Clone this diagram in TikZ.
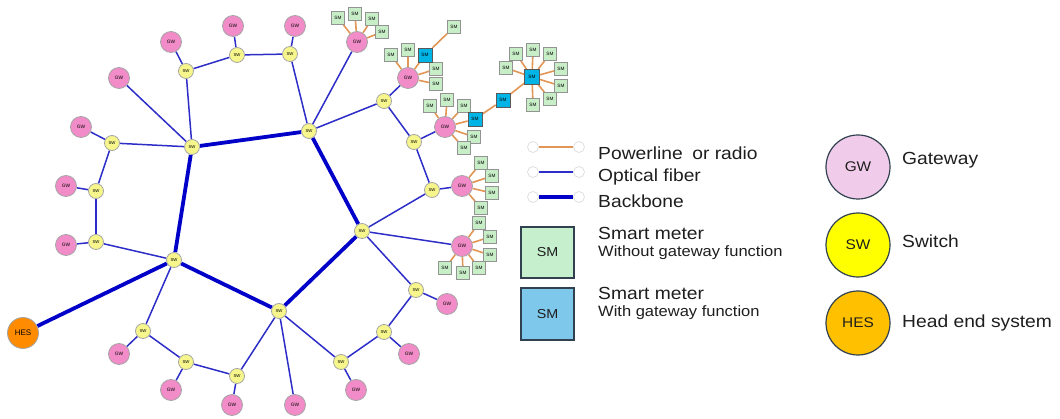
\documentclass[tikz,border=0pt]{standalone}
\usepackage{fontspec}
\setmainfont{Liberation Sans}
\newfontfamily\legfont[FakeStretch=1.1]{Liberation Sans}
\usetikzlibrary{backgrounds}
\definecolor{optc}{RGB}{45,45,200}
\definecolor{bbc}{RGB}{0,0,200}
\definecolor{plc}{RGB}{225,150,85}
\definecolor{swc}{RGB}{246,246,140}
\definecolor{gwc}{RGB}{242,140,200}
\definecolor{hesc}{RGB}{255,140,0}
\definecolor{smc}{RGB}{200,238,200}
\definecolor{smbc}{RGB}{0,180,230}
\definecolor{nbd}{RGB}{165,165,165}
\definecolor{lgsm}{RGB}{198,239,206}
\definecolor{lgsmb}{RGB}{126,200,235}
\definecolor{lggw}{RGB}{240,204,234}
\definecolor{lgsw}{RGB}{255,255,0}
\definecolor{lghes}{RGB}{255,192,0}
\definecolor{lgbd}{RGB}{50,65,80}
\definecolor{txt}{RGB}{30,30,30}
\tikzset{
 sw/.style={circle,draw=nbd,line width=0.8pt,fill=swc,minimum size=15pt,inner sep=0pt,font=\fontsize{4.3}{5}\selectfont},
 gw/.style={circle,draw=nbd,line width=0.8pt,fill=gwc,minimum size=21pt,inner sep=0pt,font=\fontsize{4.8}{5}\selectfont},
 hes/.style={circle,draw=nbd,line width=0.8pt,fill=hesc,minimum size=31pt,inner sep=0pt,font=\fontsize{8}{9}\selectfont},
 sm/.style={rectangle,draw=gray!85,line width=0.8pt,fill=smc,minimum size=13pt,inner sep=0pt,font=\fontsize{4.7}{5}\selectfont},
 smb/.style={sm,fill=smbc,draw=gray!70!black,minimum size=14pt},
 opt/.style={draw=optc,line width=1.5pt},
 bb/.style={draw=bbc,line width=3.8pt},
 pl/.style={draw=plc,line width=1.6pt},
 lc/.style={circle,draw=gray!25,line width=0.8pt,fill=white,minimum size=11pt,inner sep=0pt},
 lgbox/.style={rectangle,draw=lgbd,line width=1.2pt,minimum width=53pt,minimum height=51pt,inner sep=0pt,font=\legfont\fontsize{13}{15}\selectfont,text=txt},
 lgcirc/.style={circle,draw=lgbd,line width=1.2pt,minimum size=64pt,inner sep=0pt,font=\legfont\fontsize{14}{16}\selectfont,text=txt},
 bigtxt/.style={anchor=west,inner sep=0pt,font=\legfont\fontsize{17.5}{20}\selectfont,text=txt},
 smalltxt/.style={anchor=west,inner sep=0pt,font=\legfont\fontsize{15}{17}\selectfont,text=txt},
}
\begin{document}
\begin{tikzpicture}[x=1pt,y=-1pt]
\useasboundingbox (0,0) rectangle (1060,419);
% switches
\foreach \n/\x/\y in {s1/192/147,s2/309/131,s3/174/260,s4/279/311,s5/362/231,
  t1/186/71,t2/237/55,t3/290/54,l1/112/143,l2/96/191,l3/96/242,
  b1/143/331,b2/186/362,b3/237/376,c1/341/362,c2/384/332,c3/416/290,
  r1/414/142,r2/384/101,r3/432/190}
  \node[sw] (\n) at (\x,\y) {SW};
% gateways
\foreach \n/\x/\y in {g1/171/42,g2/233/26,g3/295/26,g4/119/78,g5/81/127,g6/66/186,
  g7/66/245,g8/119/354,g9/171/390,g10/232/405,g11/295/405,g12/356/390,
  g13/409/354,g14/447/304,g15/357/42,g16/408/78,g17/445/127,g18/462/186,g19/462/246}
  \node[gw] (\n) at (\x,\y) {GW};
\node[hes] (hes) at (23,333) {HES};
% smart meters
\foreach \n/\x/\y in {a1/338/18,a2/355/14,a3/372/19,a4/382/32,
  d1/391/55,d2/408/50,d3/436/69,d4/436/84,d5/454/27,
  e1/430/106,e2/447/100,e3/464/106,e4/474/137,e5/464/148,
  h1/506/68,h2/516/54,h3/533/50,h4/550/54,h5/561/69,h6/561/86,h7/550/99,h8/533/105,
  k1/481/163,k2/492/176,k3/492/193,k4/481/208,
  n1/479/223,n2/490/237,n3/490/255,n4/479/268,n5/463/273,n6/445/268}
  \node[sm] (\n) at (\x,\y) {SM};
\node[smb] (m1) at (425,55) {SM};
\node[smb] (m2) at (475,119) {SM};
\node[smb] (m3) at (503,100) {SM};
\node[smb,minimum size=15pt] (m4) at (532,77) {SM};
\begin{pgfonlayer}{background}
% backbone
\foreach \a/\b in {s1/s2,s1/s3,s2/s5,s5/s4,s4/s3,s3/hes}
  \draw[bb] (\a) -- (\b);
% optical fiber
\foreach \a/\b in {s1/t1,s1/g4,s1/l1,t1/g1,t1/t2,t2/g2,t2/t3,t3/g3,t3/s2,
  s2/g15,s2/r2,r2/g16,r2/r1,r1/g17,r1/r3,r3/g18,r3/s5,
  s5/g19,s5/c3,c3/g14,c3/c2,c2/g13,c2/c1,c1/g12,c1/s4,
  s4/g11,s4/b3,b3/g10,b3/b2,b2/g9,b2/b1,b1/g8,b1/s3,
  s3/l3,l3/g7,l3/l2,l2/g6,l2/l1,l1/g5}
  \draw[opt] (\a) -- (\b);
% powerline / radio
\foreach \a/\b in {g15/a1,g15/a2,g15/a3,g15/a4,
  g16/d1,g16/d2,g16/m1,g16/d3,g16/d4,m1/d5,
  g17/e1,g17/e2,g17/e3,g17/m2,g17/e4,g17/e5,m2/m3,m3/m4,
  m4/h1,m4/h2,m4/h3,m4/h4,m4/h5,m4/h6,m4/h7,m4/h8,
  g18/k1,g18/k2,g18/k3,g18/k4,
  g19/n1,g19/n2,g19/n3,g19/n4,g19/n5,g19/n6}
  \draw[pl] (\a) -- (\b);
\end{pgfonlayer}
% legend: lines
\node[lc] (p1) at (533,147) {};
\node[lc] (p2) at (579,147) {};
\node[lc] (o1) at (533,172) {};
\node[lc] (o2) at (579,172) {};
\node[lc] (q1) at (533,197) {};
\node[lc] (q2) at (579,197) {};
\draw[pl] (p1) -- (p2);
\draw[draw=optc,line width=2pt] (o1) -- (o2);
\draw[draw=bbc,line width=3.8pt] (q1) -- (q2);
\node[bigtxt] (tp) at (598,153) {Powerline\hspace{0.55em}or radio};
\node[bigtxt] (to) at (598,177) {Optical fiber};
\node[bigtxt] (tb) at (598,201) {Backbone};
% legend: smart meters
\node[lgbox,fill=lgsm] (lsm) at (547.5,252.5) {SM};
\node[lgbox,fill=lgsmb,minimum height=52pt] (lsmb) at (547.5,314) {SM};
\node[bigtxt] (ts1) at (598,233) {Smart meter};
\node[smalltxt] (ts2) at (598,253) {Without gateway function};
\node[bigtxt] (ts3) at (598,293) {Smart meter};
\node[smalltxt] (ts4) at (598,313) {With gateway function};
% legend: circles
\node[lgcirc,fill=lggw] (lgw) at (858,167) {GW};
\node[lgcirc,fill=lgsw] (lsw) at (858,245) {SW};
\node[lgcirc,fill=lghes] (lhes) at (858,323) {HES};
\node[bigtxt] (tg) at (902,160) {Gateway};
\node[bigtxt] (tw) at (902,241) {Switch};
\node[bigtxt] (th) at (902,323) {Head end system};
\end{tikzpicture}
\end{document}
